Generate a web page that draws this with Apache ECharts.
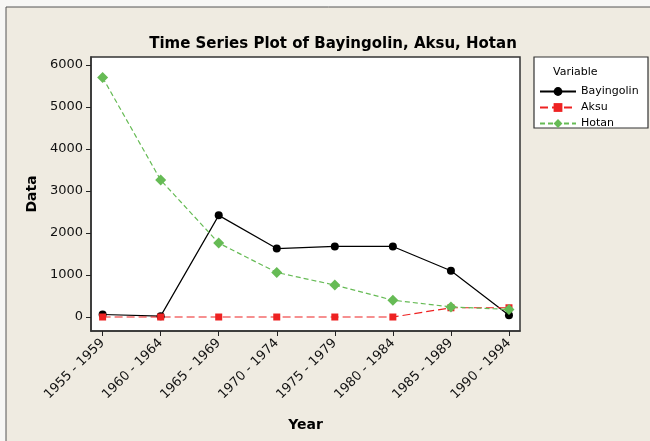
<!DOCTYPE html>
<html><head><meta charset="utf-8">
<script src="https://cdn.jsdelivr.net/npm/echarts@6/dist/echarts.min.js"></script>
<style>html,body{margin:0;padding:0;background:#F7F7F5;}#c{width:650px;height:441px;}</style>
</head><body><div id="c"></div>
<script>
const categories = ["1955 - 1959","1960 - 1964","1965 - 1969","1970 - 1974","1975 - 1979","1980 - 1984","1985 - 1989","1990 - 1994"];
const bayingolin = [60, 20, 2420, 1630, 1680, 1680, 1100, 40];
const aksu = [0, 0, 0, 0, 0, 0, 220, 220];
const hotan = [5700, 3260, 1760, 1060, 760, 400, 240, 180];
const yTicks = [0, 1000, 2000, 3000, 4000, 5000, 6000];

const toPts = arr => arr.map((v, i) => [i, v]);
const xTicks = categories.map((c, i) => i);
const font = 'Tahoma, "DejaVu Sans", sans-serif';
const chart = echarts.init(document.getElementById('c'), null, {renderer: 'canvas'});
chart.setOption({
  backgroundColor: '#F7F7F5',
  animation: false,
  title: {
    text: 'Time Series Plot of Bayingolin, Aksu, Hotan',
    left: 328, top: 32, textAlign: 'center',
    textStyle: {fontFamily: font, fontWeight: 'bold', fontSize: 15, color: '#000'}
  },
  grid: {left: 91, right: 130, top: 57, bottom: 110, show: true, backgroundColor: '#fff', borderColor: '#333', borderWidth: 1.5},
  xAxis: {
    type: 'value', min: -0.2, max: 7.19,
    name: 'Year', nameLocation: 'middle', nameGap: 87,
    nameTextStyle: {fontFamily: font, fontWeight: 'bold', fontSize: 14, color: '#000'},
    axisLine: {show: true, onZero: false, lineStyle: {color: '#333', width: 1.5}}, splitLine: {show: false},
    axisTick: {show: true, length: 5, lineStyle: {color: '#222', width: 1}, customValues: xTicks},
    axisLabel: {
      rotate: 45, fontFamily: font, fontSize: 13, color: '#111', margin: 10,
      customValues: xTicks,
      formatter: v => categories[Math.round(v)] || ''
    }
  },
  yAxis: {
    type: 'value', min: -333, max: 6190,
    name: 'Data', nameLocation: 'middle', nameGap: 45, nameRotate: 90,
    nameTextStyle: {fontFamily: font, fontWeight: 'bold', fontSize: 14, color: '#000'},
    axisLine: {show: true, onZero: false, lineStyle: {color: '#333', width: 1.5}}, splitLine: {show: false},
    axisTick: {show: true, length: 5, lineStyle: {color: '#222', width: 1}, customValues: yTicks},
    axisLabel: {fontFamily: font, fontSize: 13, color: '#111', margin: 8, customValues: yTicks, formatter: v => String(v)}
  },
  legend: {
    orient: 'vertical', left: 534, top: 81, itemGap: 5, itemWidth: 36, itemHeight: 11,
    textStyle: {fontFamily: font, fontSize: 11, color: '#000'},
    data: ['Bayingolin', 'Aksu', 'Hotan']
  },
  graphic: [
    {type: 'rect', shape: {x: 6, y: 7, width: 700, height: 500}, style: {fill: '#EFEBE1', stroke: '#555', lineWidth: 1}, z: -10},
    {type: 'rect', shape: {x: 534, y: 57, width: 114, height: 71}, style: {fill: '#fff', stroke: '#333', lineWidth: 1.2}, z: -1},
    {type: 'text', left: 553, top: 67, style: {text: 'Variable', font: '11px ' + font, fill: '#000'}}
  ],
  series: [
    {name: 'Bayingolin', type: 'line', data: toPts(bayingolin), symbol: 'circle', symbolSize: 8,
     itemStyle: {color: '#000'}, lineStyle: {color: '#000', width: 1.2}},
    {name: 'Aksu', type: 'line', data: toPts(aksu), symbol: 'rect', symbolSize: 7,
     itemStyle: {color: '#EE2222'}, lineStyle: {color: '#EE2222', width: 1.2, type: [8, 4]}},
    {name: 'Hotan', type: 'line', data: toPts(hotan), symbol: 'diamond', symbolSize: 11,
     itemStyle: {color: '#66BB55'}, lineStyle: {color: '#66BB55', width: 1.2, type: [5, 3]}}
  ]
});
</script></body></html>
